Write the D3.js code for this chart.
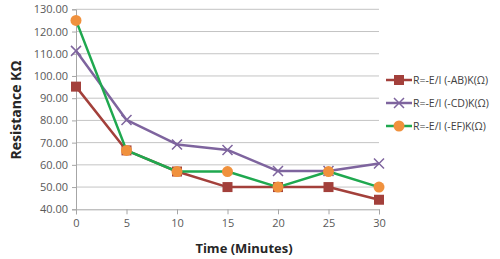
<!DOCTYPE html>
<html>
<head>
<meta charset="utf-8">
<script src="https://cdn.jsdelivr.net/npm/d3@7"></script>
<style>
  body { margin: 0; background: #fff; }
  text { font-family: "Open Sans", "DejaVu Sans", sans-serif; }
</style>
</head>
<body>
<svg id="chart" width="500" height="259"></svg>
<script>
// data
const times = [0, 5, 10, 15, 20, 25, 30];
const valuesAB = [95.2, 66.5, 57.0, 50.0, 50.0, 50.0, 44.3];
const valuesCD = [111.3, 80.2, 69.2, 66.7, 57.2, 57.2, 60.6];
const valuesEF = [125.0, 66.5, 57.0, 57.0, 50.0, 57.0, 50.0];
const seriesNames = ["R=-E/I (-AB)K(\u03A9)", "R=-E/I (-CD)K(\u03A9)", "R=-E/I (-EF)K(\u03A9)"];
const yTicks = [40, 50, 60, 70, 80, 90, 100, 110, 120, 130];

const w = 500, h = 259;
const svg = d3.select("#chart");

// scales
const xScale = d3.scaleLinear().domain([0, 30]).range([76, 379]);
const yScale = d3.scaleLinear().domain([40, 130]).range([209.3, 9.3]);

// gridlines
svg.append("g")
  .selectAll("line")
  .data(yTicks.slice(1))
  .join("line")
  .attr("x1", xScale(0))
  .attr("x2", xScale(30))
  .attr("y1", d => yScale(d))
  .attr("y2", d => yScale(d))
  .attr("stroke", "#c4c4c4")
  .attr("stroke-width", 1);

// axes
const yAxis = d3.axisLeft(yScale).tickValues(yTicks).tickFormat(d3.format(".2f")).tickSize(4);
const xAxis = d3.axisBottom(xScale).tickValues(times).tickFormat(d3.format("d")).tickSize(5);

const gy = svg.append("g").attr("transform", `translate(${xScale(0)},0)`).call(yAxis);
const gx = svg.append("g").attr("transform", `translate(0,${yScale(40)})`).call(xAxis);

[gx, gy].forEach(g => {
  g.select(".domain").attr("stroke", "#a6a6a6");
  g.selectAll(".tick line").attr("stroke", "#a6a6a6");
  g.selectAll(".tick text")
    .attr("fill", "#595959")
    .style("font-size", "11px")
    .style("font-family", "'Open Sans', sans-serif");
});
gy.selectAll(".tick text").attr("x", -8);
gx.selectAll(".tick text").attr("y", 10);

// axis titles
svg.append("text")
  .attr("transform", `translate(21,${110}) rotate(-90)`)
  .attr("text-anchor", "middle")
  .style("font-size", "14px")
  .style("font-weight", "bold")
  .attr("fill", "#262626")
  .text("Resistance  K\u03A9");

svg.append("text")
  .attr("x", 244)
  .attr("y", 253)
  .attr("text-anchor", "middle")
  .style("font-size", "13px")
  .style("font-weight", "bold")
  .attr("fill", "#262626")
  .text("Time (Minutes)");

// series
const series = [
  { name: seriesNames[0], values: valuesAB, line: "#a3403b", marker: "#a3403b", shape: "square" },
  { name: seriesNames[1], values: valuesCD, line: "#7e649e", marker: "#7e649e", shape: "x" },
  { name: seriesNames[2], values: valuesEF, line: "#1fa84f", marker: "#f0913d", shape: "circle" }
];

const line = d3.line()
  .x((d, i) => xScale(times[i]))
  .y(d => yScale(d));

function drawMarker(g, shape, color, cx, cy) {
  if (shape === "square") {
    g.append("rect")
      .attr("x", cx - 5).attr("y", cy - 5)
      .attr("width", 10).attr("height", 10)
      .attr("fill", color);
  } else if (shape === "x") {
    g.append("path")
      .attr("d", `M${cx - 5},${cy - 5}L${cx + 5},${cy + 5}M${cx - 5},${cy + 5}L${cx + 5},${cy - 5}`)
      .attr("stroke", color)
      .attr("stroke-width", 1.5)
      .attr("fill", "none");
  } else {
    g.append("circle")
      .attr("cx", cx).attr("cy", cy).attr("r", 5.5)
      .attr("fill", color);
  }
}

series.forEach(s => {
  svg.append("path")
    .datum(s.values)
    .attr("d", line)
    .attr("fill", "none")
    .attr("stroke", s.line)
    .attr("stroke-width", 2.5)
    .attr("stroke-linejoin", "round");
  const mg = svg.append("g");
  s.values.forEach((v, i) => drawMarker(mg, s.shape, s.marker, xScale(times[i]), yScale(v)));
});

// legend
const legend = svg.append("g");
series.forEach((s, i) => {
  const ly = 80 + i * 23;
  legend.append("line")
    .attr("x1", 386).attr("x2", 412)
    .attr("y1", ly).attr("y2", ly)
    .attr("stroke", s.line)
    .attr("stroke-width", 2.5);
  drawMarker(legend, s.shape, s.marker, 399, ly);
  legend.append("text")
    .attr("x", 413)
    .attr("y", ly + 4)
    .attr("fill", "#404040")
    .style("font-size", "10.5px")
    .text(s.name);
});
</script>
</body>
</html>
